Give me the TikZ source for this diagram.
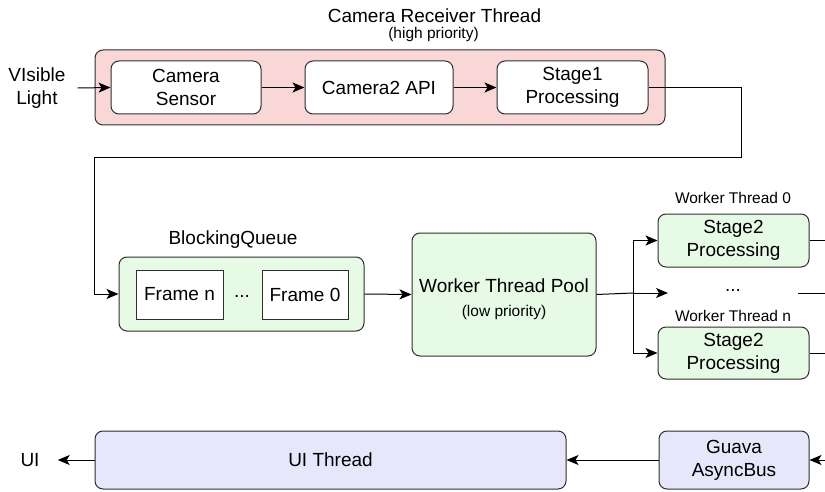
\documentclass[tikz,border=0pt]{standalone}
\usepackage{fontspec}
\setmainfont{Liberation Sans}
\usetikzlibrary{arrows.meta}

\definecolor{pinkfill}{HTML}{F9D7D6}
\definecolor{greenfill}{HTML}{E6FAE6}
\definecolor{lavfill}{HTML}{E7E7FB}
\definecolor{edge}{HTML}{2E2E2E}

\tikzset{
  base/.style={draw=edge, line width=1pt, align=center, inner sep=0pt,
    font=\fontsize{19}{23}\selectfont},
  rbox/.style={base, rounded corners=8pt},
  procbox/.style={rbox, fill=white},
  framebox/.style={base, fill=white},
  plain/.style={align=center, inner sep=0pt, font=\fontsize{19}{23}\selectfont},
  small/.style={align=center, inner sep=0pt, font=\fontsize{15.5}{18}\selectfont},
  conn/.style={draw=black, line width=1pt},
  arr/.style={conn, -{Stealth[length=12pt,width=10pt,inset=3pt]}},
}

\begin{document}
\begin{tikzpicture}[x=1pt, y=-1pt]
  \useasboundingbox (0,0) rectangle (825,492);

  % --- camera receiver thread ---
  \node[rbox, fill=pinkfill, minimum width=570, minimum height=75] (crt) at (380,87.5) {};
  \node[plain] (crttitle) at (434.5,16) {Camera Receiver Thread};
  \node[small] (crtprio) at (433.5,34) {(high priority)};
  \node[procbox, minimum width=150, minimum height=53] (sensor) at (186,87.5) {Camera\\Sensor};
  \node[procbox, minimum width=148, minimum height=53] (api) at (379,87.5) {Camera2 API};
  \node[procbox, minimum width=151, minimum height=53] (stage1) at (572.5,87.5) {Stage1\\Processing};
  \node[plain, inner xsep=12pt] (light) at (37,88) {VIsible\\Light};

  % --- blocking queue ---
  \node[rbox, fill=greenfill, minimum width=245, minimum height=74] (bq) at (241.5,294) {};
  \node[plain] (bqlabel) at (233,240) {BlockingQueue};
  \node[framebox, minimum width=87, minimum height=49] (framen) at (179.5,294.5) {Frame n};
  \node[plain] (qdots) at (242,296) {...};
  \node[framebox, minimum width=86, minimum height=49] (frame0) at (305,294.5) {Frame 0};

  % --- worker pool and workers ---
  \node[rbox, fill=greenfill, minimum width=184, minimum height=123] (pool) at (504,294.5) {};
  \node[plain] (pooltext) at (504,299)
    {Worker Thread Pool\\[1pt]{\fontsize{15.5}{18}\selectfont (low priority)}};
  \node[rbox, fill=greenfill, minimum width=151, minimum height=53] (s2a) at (733.5,240.5) {Stage2\\Processing};
  \node[rbox, fill=greenfill, minimum width=151, minimum height=52] (s2b) at (733.5,353) {Stage2\\Processing};
  \node[small] (wt0) at (733,198) {Worker Thread 0};
  \node[small] (wtn) at (733,316) {Worker Thread n};
  \node[plain] (wdots) at (733,290) {...};

  % --- UI side ---
  \node[rbox, fill=lavfill, minimum width=471, minimum height=58] (ui) at (330.5,460) {UI Thread};
  \node[rbox, fill=lavfill, minimum width=150, minimum height=58] (guava) at (734,460) {Guava\\AsyncBus};
  \node[plain, inner xsep=18pt] (uiout) at (30,460) {UI};

  % --- routing points ---
  \coordinate (r1) at (741,158);
  \coordinate (l1) at (94,158);
  \coordinate (split) at (633,293);
  \coordinate (midend) at (668,293);
  \coordinate (midout) at (798,293);
  \coordinate (edgem) at (825,293);
  \coordinate (edgea) at (825,240.5);
  \coordinate (edgeb) at (825,353);
  \coordinate (edgeg) at (825,460);

  % --- connectors ---
  \draw[arr] (light.east) -- (sensor.west);
  \draw[arr] (sensor.east) -- (api.west);
  \draw[arr] (api.east) -- (stage1.west);
  \draw[arr] (stage1.east) -| (r1) -- (l1) |- (bq.west);
  \draw[arr] (bq.east) -- (pool.west);
  \draw[conn] (pool.east) -- (split);
  \draw[arr] (split) |- (s2a.west);
  \draw[arr] (split) |- (s2b.west);
  \draw[arr] (split) -- (midend);
  \draw[conn] (midout) -- (edgem);
  \draw[conn] (s2a.east) -- (edgea);
  \draw[conn] (s2b.east) -- (edgeb);
  \draw[arr] (edgeg) -- (guava.east);
  \draw[arr] (guava.west) -- (ui.east);
  \draw[arr] (ui.west) -- (uiout.east);
\end{tikzpicture}
\end{document}
